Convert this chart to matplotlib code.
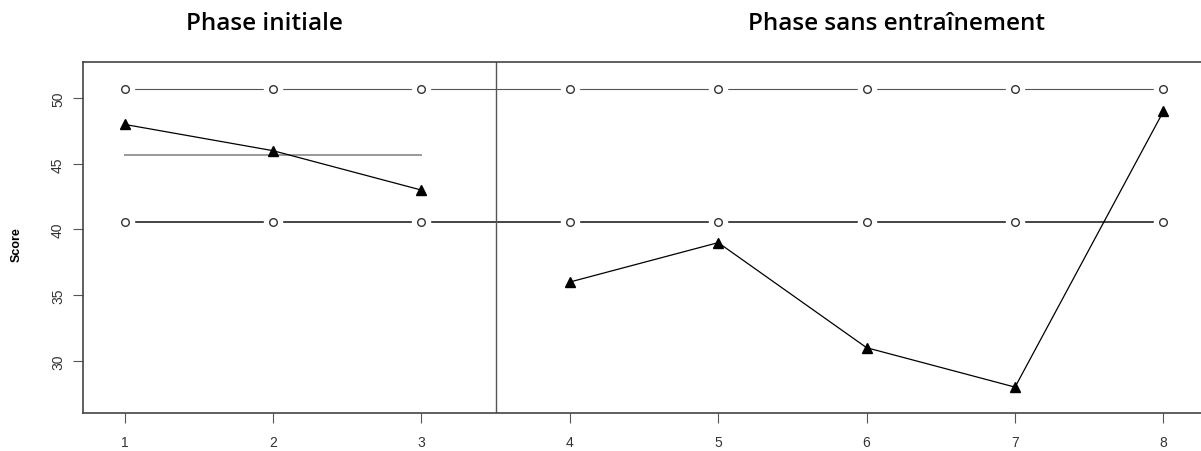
import numpy as np
import matplotlib.pyplot as plt

# sessions and scores
sessions = [1, 2, 3, 4, 5, 6, 7, 8]
scores = [48, 46, 43, 36, 39, 31, 28, 49]
phase1_x = [1, 2, 3]
phase2_x = [4, 5, 6, 7, 8]
phase1_mean = 45.7
upper_band = 50.7
lower_band = 40.6
phase_split = 3.5
yticks = [30, 35, 40, 45, 50]

fig = plt.figure(figsize=(12.01, 4.52), dpi=100)
# axes runs a bit past the right edge like in the original screenshot
ax = fig.add_axes([83 / 1201, 1 - 414 / 452, (1205 - 83) / 1201, (414 - 63) / 452])

# band lines with open circles (R type="b" look: gap around each point)
for val, lw, col in [(upper_band, 0.8, "#555555"), (lower_band, 1.4, "#444444")]:
    ax.plot(sessions, [val] * len(sessions), color=col, lw=lw, zorder=1)
    ax.plot(sessions, [val] * len(sessions), ls="none", marker="o", ms=13,
            mfc="white", mec="white", zorder=2)
    ax.plot(sessions, [val] * len(sessions), ls="none", marker="o", ms=5.5,
            mfc="white", mec="#333333", mew=1.0, zorder=3)

# mean of phase 1
ax.plot(phase1_x, [phase1_mean] * len(phase1_x), color="#999999", lw=1.4, zorder=1)

# scores, one line per phase
ax.plot(phase1_x, scores[:3], color="black", lw=0.9, marker="^", ms=6.5, zorder=4)
ax.plot(phase2_x, scores[3:], color="black", lw=0.9, marker="^", ms=6.5, zorder=4)

ax.axvline(phase_split, color="#555555", lw=1.0)

ax.set_xlim(0.72, 8.28)
ax.set_ylim(26.03, 52.75)
ax.set_xticks(sessions)
ax.set_yticks(yticks)
ax.set_xticklabels([str(s) for s in sessions], fontsize=10, color="#333333",
                   family="Liberation Sans")
ax.set_yticklabels([str(t) for t in yticks], fontsize=10, color="#333333",
                   rotation=90, va="center", family="Liberation Sans")
ax.tick_params(axis="both", length=7, width=0.8, color="#555555")
ax.tick_params(axis="x", pad=9)
ax.tick_params(axis="y", pad=6)
for sp in ax.spines.values():
    sp.set_linewidth(1.2)
    sp.set_color("#444444")

fig.text(17 / 1201, 1 - 245 / 452, "Score", rotation=90, ha="center", va="center",
         fontsize=9, fontweight="bold", family="Liberation Sans")

fig.text(264 / 1201, 1 - 24 / 452, "Phase initiale", ha="center", va="center",
         fontsize=17.5, fontweight="semibold", family="Open Sans")
fig.text(897 / 1201, 1 - 24 / 452, "Phase sans entraînement", ha="center", va="center",
         fontsize=17.5, fontweight="semibold", family="Open Sans")

plt.savefig("out.png", dpi=100)
